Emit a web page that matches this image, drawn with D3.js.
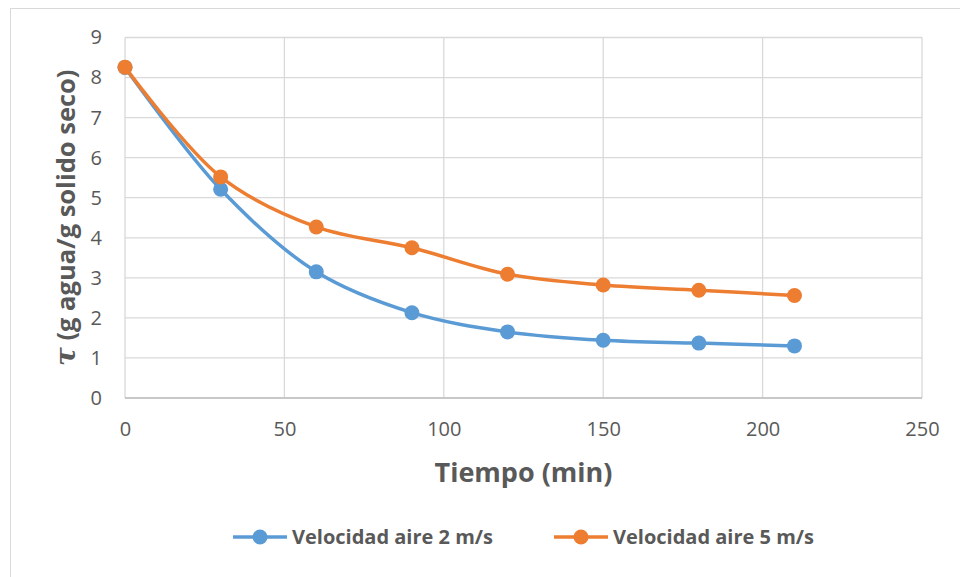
<!DOCTYPE html>
<html>
<head>
<meta charset="utf-8">
<script src="https://cdn.jsdelivr.net/npm/d3@7"></script>
<style>
  body { margin: 0; background: #fff; }
  text { font-family: "Open Sans", sans-serif; fill: #595959; }
</style>
</head>
<body>
<div id="chart"></div>
<script>
// Datos
const tiempo = [0, 30, 60, 90, 120, 150, 180, 210];
const vel2 = [8.25, 5.21, 3.15, 2.13, 1.65, 1.44, 1.37, 1.30];
const vel5 = [8.26, 5.52, 4.27, 3.75, 3.09, 2.82, 2.69, 2.56];
const xTicks = [0, 50, 100, 150, 200, 250];
const yTicks = [0, 1, 2, 3, 4, 5, 6, 7, 8, 9];
const series = [
  {name: "Velocidad aire 2 m/s", values: vel2, color: "#5B9BD5"},
  {name: "Velocidad aire 5 m/s", values: vel5, color: "#ED7D31"}
];

const width = 960;
const height = 577;
const margin = {top: 37.5, right: 38, bottom: 179, left: 125};

const svg = d3.select("#chart")
    .append("svg")
    .attr("width", width)
    .attr("height", height);

// borde del área del gráfico
svg.append("rect")
    .attr("x", 10.5).attr("y", 8.5)
    .attr("width", 1000).attr("height", 1000)
    .attr("fill", "none")
    .attr("stroke", "#D9D9D9");

const x = d3.scaleLinear().domain([0, 250]).range([margin.left, width - margin.right]);
const y = d3.scaleLinear().domain([0, 9]).range([height - margin.bottom, margin.top]);

// rejilla
svg.append("g")
    .selectAll("line")
    .data(yTicks)
    .join("line")
    .attr("x1", x(0)).attr("x2", x(250))
    .attr("y1", d => y(d)).attr("y2", d => y(d))
    .attr("stroke", "#D9D9D9").attr("stroke-width", 1.3);

svg.append("g")
    .selectAll("line")
    .data(xTicks)
    .join("line")
    .attr("x1", d => x(d)).attr("x2", d => x(d))
    .attr("y1", y(0)).attr("y2", y(9))
    .attr("stroke", "#D9D9D9").attr("stroke-width", 1.3);

// línea del eje x
svg.append("line")
    .attr("x1", x(0)).attr("x2", x(250))
    .attr("y1", y(0)).attr("y2", y(0))
    .attr("stroke", "#BFBFBF").attr("stroke-width", 1.3);

// etiquetas de los ejes
const xAxis = svg.append("g")
    .attr("transform", `translate(0,${y(0)})`)
    .call(d3.axisBottom(x).tickValues(xTicks).tickSize(0).tickPadding(24));
xAxis.select(".domain").remove();
xAxis.selectAll("text").style("font-size", "20px").attr("fill", "#595959")
    .style("font-family", "'Open Sans', sans-serif");

const yAxis = svg.append("g")
    .attr("transform", `translate(${x(0)},0)`)
    .call(d3.axisLeft(y).tickValues(yTicks).tickSize(0).tickPadding(23));
yAxis.select(".domain").remove();
yAxis.selectAll("text").style("font-size", "20px").attr("fill", "#595959")
    .style("font-family", "'Open Sans', sans-serif");

// títulos
svg.append("text")
    .attr("x", (x(0) + x(250)) / 2)
    .attr("y", 482)
    .attr("text-anchor", "middle")
    .style("font-size", "27px")
    .style("font-weight", "bold")
    .text("Tiempo (min)");

const yt = svg.append("text")
    .attr("transform", `translate(75,${(y(0) + y(9)) / 2}) rotate(-90)`)
    .attr("text-anchor", "middle")
    .style("font-size", "25.5px")
    .style("font-weight", "bold");
yt.append("tspan")
    .style("font-family", "'DejaVu Serif', serif")
    .style("font-style", "italic")
    .style("font-size", "28px")
    .text("τ");
yt.append("tspan").text(" (g agua/g solido seco)");

// líneas suavizadas
const line = d3.line()
    .x((d, i) => x(tiempo[i]))
    .y(d => y(d))
    .curve(d3.curveCatmullRom.alpha(0.5));

series.forEach(s => {
    svg.append("path")
        .datum(s.values)
        .attr("d", line)
        .attr("fill", "none")
        .attr("stroke", s.color)
        .attr("stroke-width", 3.5)
        .attr("stroke-linecap", "round");

    svg.append("g")
        .selectAll("circle")
        .data(s.values)
        .join("circle")
        .attr("cx", (d, i) => x(tiempo[i]))
        .attr("cy", d => y(d))
        .attr("r", 7.5)
        .attr("fill", s.color);
});

// leyenda
const legendX = [233, 554];
series.forEach((s, i) => {
    const g = svg.append("g").attr("transform", `translate(${legendX[i]},537)`);
    g.append("line")
        .attr("x1", 0).attr("x2", 54)
        .attr("stroke", s.color).attr("stroke-width", 3.5);
    g.append("circle")
        .attr("cx", 27).attr("r", 7.5).attr("fill", s.color);
    g.append("text")
        .attr("x", 59).attr("dy", "0.35em")
        .style("font-size", "20px")
        .style("font-weight", "bold")
        .text(s.name);
});
</script>
</body>
</html>
